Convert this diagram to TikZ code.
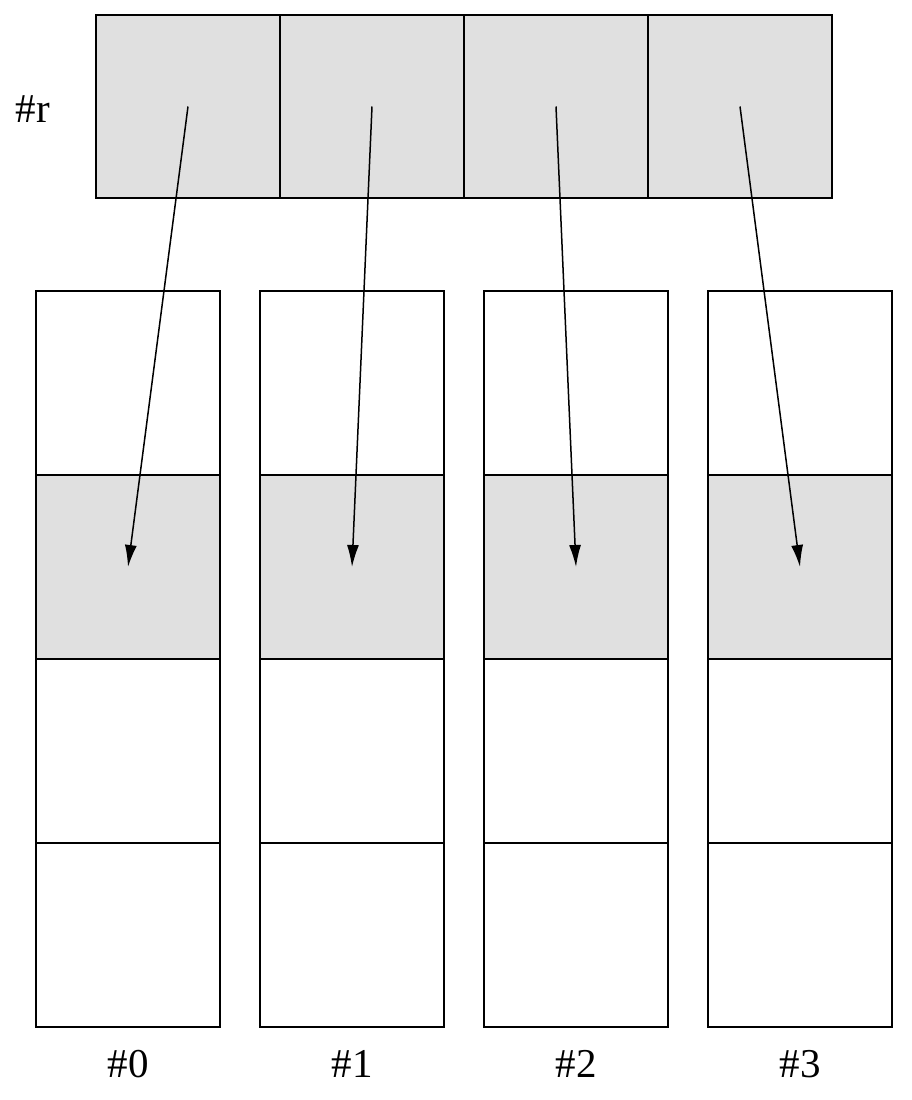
\documentclass[tikz,border=0pt]{standalone}
\usepackage{fontspec}
\setmainfont{Liberation Serif}
\usetikzlibrary{arrows.meta}
\definecolor{cellgray}{HTML}{E0E0E0}
\tikzset{
  cell/.style={draw=black, line width=1.5pt, minimum width=184pt, minimum height=184pt, inner sep=0pt, outer sep=0pt},
  graycell/.style={cell, fill=cellgray},
  lbl/.style={font=\fontsize{41}{41}\selectfont, inner sep=0pt},
  ptr/.style={line width=1.5pt, -{Latex[length=22pt,width=12pt]}}
}
\begin{document}
\begin{tikzpicture}[x=1pt,y=-1pt]
\useasboundingbox (0,0) rectangle (912,1100);
% top row
\foreach \i/\x in {0/188,1/372,2/556,3/740}{
  \node[graycell, minimum height=183pt] (t\i) at (\x,106.5) {};
}
\node[lbl] (rlabel) at (33,109) {\#r};
% columns
\foreach \i/\x in {0/128,1/352,2/576,3/800}{
  \node[cell] (a\i) at (\x,383) {};
  \node[graycell] (g\i) at (\x,567) {};
  \node[cell] (b\i) at (\x,751) {};
  \node[cell] (c\i) at (\x,935) {};
  \node[lbl] (l\i) at (\x,1064) {\#\i};
}
\foreach \i in {0,1,2,3}{
  \draw[ptr] (t\i.center) -- (g\i.center);
}
\end{tikzpicture}
\end{document}
